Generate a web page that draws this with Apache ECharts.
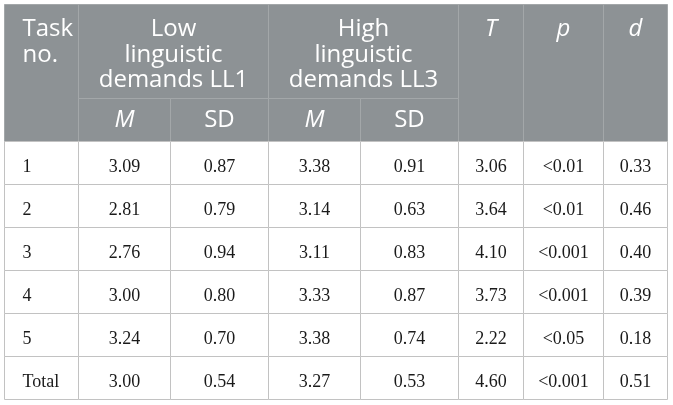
<!DOCTYPE html>
<html>
<head>
<meta charset="UTF-8">
<title>Task table</title>
<style>
    html, body { margin: 0; padding: 0; background: #fff; }
    #chartArea { width: 673px; height: 405px; }
</style>
</head>
<body>
<div id="chartArea"></div>
<script src="https://cdn.jsdelivr.net/npm/echarts@6/dist/echarts.min.js"></script>
<script>
// table values
var taskNames = ['1', '2', '3', '4', '5', 'Total'];
var lowM    = [3.09, 2.81, 2.76, 3.00, 3.24, 3.00];
var lowSD   = [0.87, 0.79, 0.94, 0.80, 0.70, 0.54];
var highM   = [3.38, 3.14, 3.11, 3.33, 3.38, 3.27];
var highSD  = [0.91, 0.63, 0.83, 0.87, 0.74, 0.53];
var tValues = [3.06, 3.64, 4.10, 3.73, 2.22, 4.60];
var pValues = ['<0.01', '<0.01', '<0.001', '<0.001', '<0.05', '<0.001'];
var dValues = [0.33, 0.46, 0.40, 0.39, 0.18, 0.51];

var groupHeaders = ['Low\nlinguistic\ndemands LL1', 'High\nlinguistic\ndemands LL3'];
var subHeaders = ['M', 'SD', 'M', 'SD'];

// layout (axis units = pixels)
var colWidths = [74, 92, 98, 92, 98, 65, 80, 64];
var rowHeights = [94, 43, 43, 43, 43, 43, 43, 43];
function edges(sizes) {
    var e = [0];
    sizes.forEach(function (s) { e.push(e[e.length - 1] + s); });
    return e;
}
var xEdges = edges(colWidths);
var yEdges = edges(rowHeights);

// build the cell list: [c0, c1, r0, r1, text, kind, align, italic]
var cells = [];
cells.push([0, 1, 0, 2, 'Task\nno.', 'head', 'left', false]);
cells.push([1, 3, 0, 1, groupHeaders[0], 'head', 'center', false]);
cells.push([3, 5, 0, 1, groupHeaders[1], 'head', 'center', false]);
cells.push([5, 6, 0, 2, 'T', 'head', 'center', true]);
cells.push([6, 7, 0, 2, 'p', 'head', 'center', true]);
cells.push([7, 8, 0, 2, 'd', 'head', 'center', true]);
subHeaders.forEach(function (s, i) {
    cells.push([1 + i, 2 + i, 1, 2, s, 'sub', 'center', s === 'M']);
});
taskNames.forEach(function (name, i) {
    var r = 2 + i;
    var row = [name, lowM[i].toFixed(2), lowSD[i].toFixed(2), highM[i].toFixed(2),
        highSD[i].toFixed(2), tValues[i].toFixed(2), pValues[i], dValues[i].toFixed(2)];
    row.forEach(function (txt, c) {
        cells.push([c, c + 1, r, r + 1, txt, 'body', c === 0 ? 'left' : 'center', false]);
    });
});

var headFill = '#8d9295';
var headLine = '#a3a7a9';
var bodyLine = '#c2c2c2';

function renderCell(params, api) {
    var cell = cells[params.dataIndex];
    var p0 = api.coord([xEdges[cell[0]], yEdges[cell[2]]]);
    var p1 = api.coord([xEdges[cell[1]], yEdges[cell[3]]]);
    var x = Math.round(p0[0]) + 0.5, y = Math.round(p0[1]) + 0.5;
    var w = Math.round(p1[0]) - Math.round(p0[0]);
    var h = Math.round(p1[1]) - Math.round(p0[1]);
    var isHead = cell[5] !== 'body';
    var tx, ty, va;
    if (cell[6] === 'left') { tx = x + 18; } else { tx = x + w / 2; }
    if (cell[5] === 'head') { ty = y + 12; va = 'top'; }
    else if (cell[5] === 'sub') { ty = y + h / 2; va = 'middle'; }
    else { ty = y + h / 2 + 4; va = 'middle'; }
    return {
        type: 'group',
        children: [{
            type: 'rect',
            shape: { x: x, y: y, width: w, height: h },
            style: {
                fill: isHead ? headFill : '#ffffff',
                stroke: isHead ? headLine : bodyLine,
                lineWidth: 1
            }
        }, {
            type: 'text',
            x: tx,
            y: ty,
            style: {
                text: cell[4],
                fill: isHead ? '#ffffff' : '#1a1a1a',
                font: (cell[7] ? 'italic ' : '') + (isHead ? '24px "Open Sans"' : '18px "Liberation Serif"'),
                lineHeight: isHead ? 25.5 : 20,
                align: cell[6],
                verticalAlign: va
            }
        }]
    };
}

var myChart = echarts.init(document.getElementById('chartArea'));
myChart.setOption({
    animation: false,
    grid: { left: 4, top: 4, width: xEdges[xEdges.length - 1], height: yEdges[yEdges.length - 1] },
    xAxis: { type: 'value', min: 0, max: xEdges[xEdges.length - 1], show: false },
    yAxis: { type: 'value', min: 0, max: yEdges[yEdges.length - 1], inverse: true, show: false },
    series: [{
        type: 'custom',
        renderItem: renderCell,
        data: cells.map(function (c, i) { return [xEdges[c[0]], yEdges[c[2]], i]; }),
        silent: true
    }]
});
</script>
</body>
</html>
